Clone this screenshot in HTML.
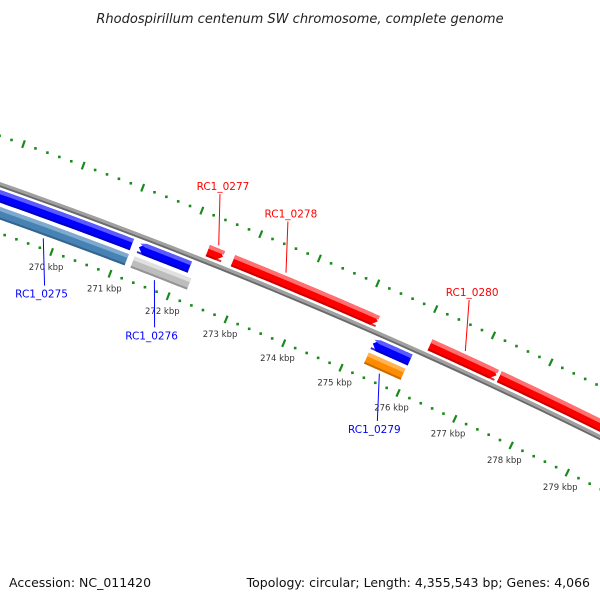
<!DOCTYPE html>
<html><head><meta charset="utf-8">
<style>
html,body{margin:0;padding:0;background:#fff;}
svg{display:block;}
text{font-family:"DejaVu Sans","Liberation Sans",sans-serif;}
</style></head>
<body>
<svg id="map" width="600" height="600" viewBox="0 0 600 600" xmlns="http://www.w3.org/2000/svg">
<rect width="600" height="600" fill="#fff"/>
<text x="300" y="23" text-anchor="middle" font-size="13" font-style="italic" fill="#222">Rhodospirillum centenum SW chromosome, complete genome</text>
<g id="ticks"></g>
<g id="backbone"></g>
<g id="features"></g>
<g id="labels"></g>
<text x="9" y="587" font-size="12.5" fill="#111">Accession: NC_011420</text>
<text x="590" y="587" text-anchor="end" font-size="12.5" fill="#111">Topology: circular; Length: 4,355,543 bp; Genes: 4,066</text>
</svg>
<script>
// Data (kbp positions)
const featureNames = ["RC1_0274","RC1_0275","RC1_0276","RC1_0276b","RC1_0277","RC1_0278","RC1_0279","RC1_0279b","RC1_0280","RC1_0281"];
const featureStarts = [266.0, 266.0, 271.28, 271.27, 272.32, 272.75, 275.31, 275.31, 276.15, 277.36];
const featureEnds   = [271.16, 271.17, 272.15, 272.24, 272.58, 275.24, 275.96, 275.95, 277.31, 281.0];
const featureRings  = [-1, -2, -1, -2, 1, 1, -1, -2, 1, 1];
const featureArrows = [0, 0, -1, 0, 1, 1, -1, 0, 1, 0];
const featureColors = ["blue","steel","blue","gray","red","red","blue","orange","red","red"];
const tickLabels = [270,271,272,273,274,275,276,277,278,279];
const labelTexts = ["RC1_0277","RC1_0278","RC1_0280","RC1_0275","RC1_0276","RC1_0279"];
const labelKbp   = [272.45, 273.6, 276.7, 269.8, 271.7, 275.6];
const labelSide  = [1, 1, 1, -1, -1, -1];

const NS="http://www.w3.org/2000/svg";
const CX=-1754, CY=5186, R=5300;
const PHI0=-69.9*Math.PI/180, DPHI=0.680*Math.PI/180;
function ang(k){return PHI0+(k-270)*DPHI;}
function pt(k,r){const a=ang(k);return [CX+r*Math.cos(a),CY+r*Math.sin(a)];}
function mk(tag,attrs,parent){const e=document.createElementNS(NS,tag);for(const k in attrs)e.setAttribute(k,attrs[k]);parent.appendChild(e);return e;}
function arcPath(k0,k1,r){let d="";const n=40;for(let i=0;i<=n;i++){const p=pt(k0+(k1-k0)*i/n,r);d+=(i?"L":"M")+p[0].toFixed(2)+","+p[1].toFixed(2);}return d;}
function bandPath(k0,k1,r0,r1,arrow){
  const head=6/62.9; let pts=[];const n=30;
  let a0=k0,a1=k1;
  if(arrow===1)a1=Math.max(k0,k1-head);
  if(arrow===-1)a0=Math.min(k1,k0+head);
  for(let i=0;i<=n;i++)pts.push(pt(a0+(a1-a0)*i/n,r1));
  if(arrow===1)pts.push(pt(k1,(r0+r1)/2));
  for(let i=n;i>=0;i--)pts.push(pt(a0+(a1-a0)*i/n,r0));
  if(arrow===-1)pts.push(pt(k0,(r0+r1)/2));
  return "M"+pts.map(p=>p[0].toFixed(2)+","+p[1].toFixed(2)).join("L")+"Z";
}
const pal={red:["#ff0000","#ff7070","#c00000"],blue:["#0000ff","#5a5aff","#0000b0"],steel:["#4682b4","#7eaad0","#2f5c82"],gray:["#bdbdbd","#e0e0e0","#8a8a8a"],orange:["#ff8c00","#ffb450","#b86400"]};

// ticks
const tg=document.getElementById("ticks");
[R+46,R-46].forEach((rr,ri)=>{
  for(let t=2660;t<=2810;t+=2){
    const k=t/10;
    if(t%10===0){
      const a=pt(k,rr-4),b=pt(k,rr+4);
      const l=mk("line",{x1:a[0],y1:a[1],x2:b[0],y2:b[1],stroke:"#1a8a1a","stroke-width":2.2},tg);
      
      
    } else {
      const p=pt(k,rr);
      const c=mk("rect",{x:p[0]-1.3,y:p[1]-1.3,width:2.6,height:2.6,fill:"#1a8a1a"},tg);
      
      
    }
  }
});
tickLabels.forEach(k=>{
  const p=pt(k,R-62);
  const t=mk("text",{x:p[0],y:p[1]+3,"text-anchor":"middle","font-size":"8.5",fill:"#333"},tg);
  t.textContent=k+" kbp";
  
  
});

// backbone
const bg=document.getElementById("backbone");
let b1=mk("path",{d:arcPath(265,282,R+1),fill:"none",stroke:"#a0a0a0","stroke-width":3},bg);


let b2=mk("path",{d:arcPath(265,282,R-1.5),fill:"none",stroke:"#6a6a6a","stroke-width":2},bg);



// features
const fg=document.getElementById("features");
featureStarts.forEach((s,i)=>{
  const e=featureEnds[i], ring=featureRings[i];
  let r0,r1;
  if(ring===1){r0=R+5;r1=R+17;} else if(ring===-1){r0=R-17;r1=R-5;} else {r0=R-33;r1=R-21;}
  const c=pal[featureColors[i]];
  const g=mk("g",{},fg);
  
  
  mk("path",{d:bandPath(s,e,r0,r1,featureArrows[i]),fill:c[0]},g);
  mk("path",{d:bandPath(s,e,r1-4,r1,featureArrows[i]===1?0:featureArrows[i]),fill:c[1]},g);
  mk("path",{d:bandPath(s,e,r0,r0+2,featureArrows[i]===-1?0:featureArrows[i]===1?0:0),fill:c[2],opacity:0.8},g);
});

// labels
const lg=document.getElementById("labels");
labelTexts.forEach((txt,i)=>{
  const k=labelKbp[i], side=labelSide[i];
  const col=side===1?"#ff0000":"#0000ff";
  const r0=side===1?R+20:R-36, r1=side===1?R+68:R-80;
  const a=pt(k,r0), b=pt(k-0.28*side,r1);
  const l=mk("line",{x1:a[0],y1:a[1],x2:b[0],y2:b[1],stroke:col,"stroke-width":1},lg);
  
  
  const t=mk("text",{x:b[0]+(side===1?3:-3),y:side===1?b[1]-4:b[1]+12,"text-anchor":"middle","font-size":"10.5",fill:col},lg);
  t.textContent=txt;
  
  
});
</script>
</body></html>
